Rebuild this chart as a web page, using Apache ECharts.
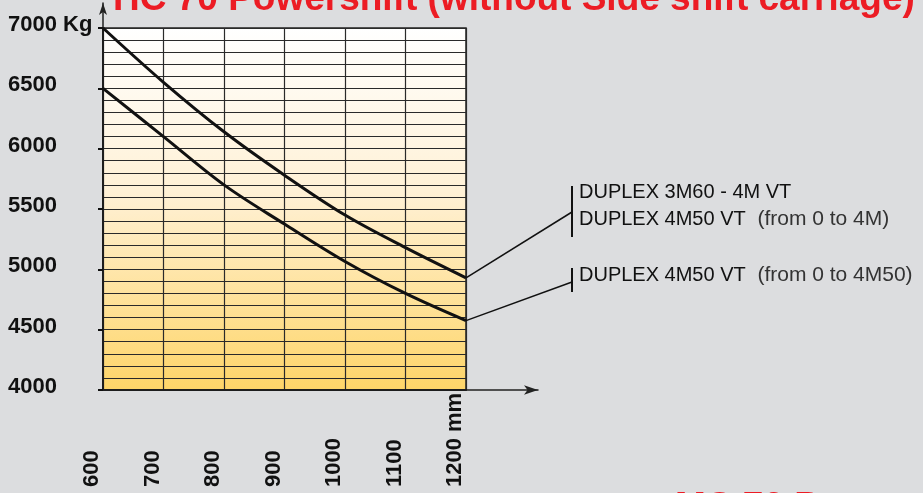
<!DOCTYPE html>
<html>
<head>
<meta charset="utf-8">
<script src="https://cdn.jsdelivr.net/npm/echarts@6/dist/echarts.min.js"></script>
<style>
html,body{margin:0;padding:0;background:#dcdddf;}
#c{width:923px;height:493px;}
</style>
</head>
<body>
<div id="c"></div>
<script>
var xValues = [600, 700, 800, 900, 1000, 1100, 1200];
var upperCurve = [7000, 6550, 6140, 5780, 5450, 5180, 4930];
var lowerCurve = [6500, 6100, 5700, 5375, 5065, 4800, 4575];
var yTicks = {min: 4000, max: 7000, step: 500, minorSplit: 5};
var xTicks = {min: 600, max: 1200, step: 100};
var upperLabels = ['DUPLEX 3M60 - 4M VT', 'DUPLEX 4M50 VT', '(from 0 to 4M)'];
var lowerLabels = ['DUPLEX 4M50 VT', '(from 0 to 4M50)'];
var titleText = 'HC 70 Powershift (without Side shift carriage)';
var footerText = 'MC 70 Powershift';

var chart = echarts.init(document.getElementById('c'), null, {renderer: 'canvas'});
var labelFont = {fontFamily: 'Liberation Sans, Arial, sans-serif', fontWeight: 'bold', fontSize: 22, color: '#111'};

function pairs(ys) { return xValues.map(function (x, i) { return [x, ys[i]]; }); }

var option = {
  backgroundColor: '#dcdddf',
  animation: false,
  grid: [
    {left: 103, top: 28, right: 457, bottom: 103, show: true, borderColor: '#222', borderWidth: 1.5,
     backgroundColor: new echarts.graphic.LinearGradient(0, 0, 0, 1, [
       {offset: 0, color: '#ffffff'},
       {offset: 0.45, color: '#fff1d6'},
       {offset: 1, color: '#fed568'}
     ])},
    {left: 103, top: 3, right: 385, bottom: 103, show: false}
  ],
  xAxis: [
    {gridIndex: 0, type: 'value', min: xTicks.min, max: xTicks.max, interval: xTicks.step,
     axisLine: {show: true, lineStyle: {color: '#111', width: 2}},
     axisTick: {show: false},
     splitLine: {show: true, lineStyle: {color: '#2a2a2a', width: 1.2}},
     axisLabel: Object.assign({rotate: 90, align: 'left', verticalAlign: 'bottom', margin: 97,
       formatter: function (v) { return v === xTicks.max ? v + ' mm' : String(v); }}, labelFont)},
    {gridIndex: 1, type: 'value', min: 0, max: 1,
     axisLine: {show: true, symbol: ['none', 'arrow'], symbolSize: [7, 14], lineStyle: {color: '#222', width: 1.5}},
     axisTick: {show: false}, axisLabel: {show: false}, splitLine: {show: false}}
  ],
  yAxis: [
    {gridIndex: 0, type: 'value', min: yTicks.min, max: yTicks.max, interval: yTicks.step,
     axisLine: {show: true, lineStyle: {color: '#111', width: 2}},
     axisTick: {show: true, inside: false, length: 5, lineStyle: {color: '#111', width: 2}},
     splitLine: {show: true, lineStyle: {color: '#2a2a2a', width: 1.2}},
     minorTick: {show: false, splitNumber: yTicks.minorSplit},
     minorSplitLine: {show: true, lineStyle: {color: '#2a2a2a', width: 1.2}},
     axisLabel: Object.assign({align: 'left', margin: 95, verticalAlign: 'bottom', lineHeight: 6,
       formatter: function (v) { return v === yTicks.max ? v + ' Kg' : String(v); }}, labelFont)},
    {gridIndex: 1, type: 'value', min: 0, max: 1,
     axisLine: {show: true, symbol: ['none', 'arrow'], symbolSize: [6, 12], lineStyle: {color: '#222', width: 1.5}},
     axisTick: {show: false}, axisLabel: {show: false}, splitLine: {show: false}}
  ],
  series: [
    {type: 'line', xAxisIndex: 0, yAxisIndex: 0, data: pairs(upperCurve), smooth: 0.35,
     symbol: 'none', lineStyle: {color: '#111', width: 3},
     markLine: {silent: true, symbol: ['none', 'none'], label: {show: false},
       lineStyle: {color: '#111', width: 1.5, type: 'solid'},
       data: [[{coord: [xValues[xValues.length - 1], upperCurve[upperCurve.length - 1]]}, {x: 572, y: 212}]]}},
    {type: 'line', xAxisIndex: 0, yAxisIndex: 0, data: pairs(lowerCurve), smooth: 0.35,
     symbol: 'none', lineStyle: {color: '#111', width: 3},
     markLine: {silent: true, symbol: ['none', 'none'], label: {show: false},
       lineStyle: {color: '#111', width: 1.5, type: 'solid'},
       data: [[{coord: [xValues[xValues.length - 1], lowerCurve[lowerCurve.length - 1]]}, {x: 572, y: 282}]]}}
  ],
  graphic: [
    {type: 'text', left: 113, top: -19, silent: true,
     style: {text: titleText, fill: '#ec1c24', font: 'bold 37px "Liberation Sans", Arial, sans-serif'}},
    {type: 'text', left: 675, top: 489, silent: true,
     style: {text: footerText, fill: '#ec1c24', font: 'bold 37px "Liberation Sans", Arial, sans-serif'}},
    {type: 'line', silent: true, shape: {x1: 572, y1: 186, x2: 572, y2: 237}, style: {stroke: '#111', lineWidth: 2}},
    {type: 'line', silent: true, shape: {x1: 572, y1: 268, x2: 572, y2: 292}, style: {stroke: '#111', lineWidth: 2}},
    {type: 'text', left: 579, top: 182, silent: true,
     style: {text: upperLabels[0], fill: '#111', font: '20px "Liberation Sans", Arial, sans-serif'}},
    {type: 'text', left: 579, top: 209, silent: true,
     style: {text: '{a|' + upperLabels[1] + '}{b|  ' + upperLabels[2] + '}',
       rich: {a: {fill: '#111', font: '20px "Liberation Sans", Arial, sans-serif'},
              b: {fill: '#333', font: '21px "Liberation Sans", Arial, sans-serif'}}}},
    {type: 'text', left: 579, top: 265, silent: true,
     style: {text: '{a|' + lowerLabels[0] + '}{b|  ' + lowerLabels[1] + '}',
       rich: {a: {fill: '#111', font: '20px "Liberation Sans", Arial, sans-serif'},
              b: {fill: '#333', font: '21px "Liberation Sans", Arial, sans-serif'}}}}
  ]
};
chart.setOption(option);
</script>
</body>
</html>
